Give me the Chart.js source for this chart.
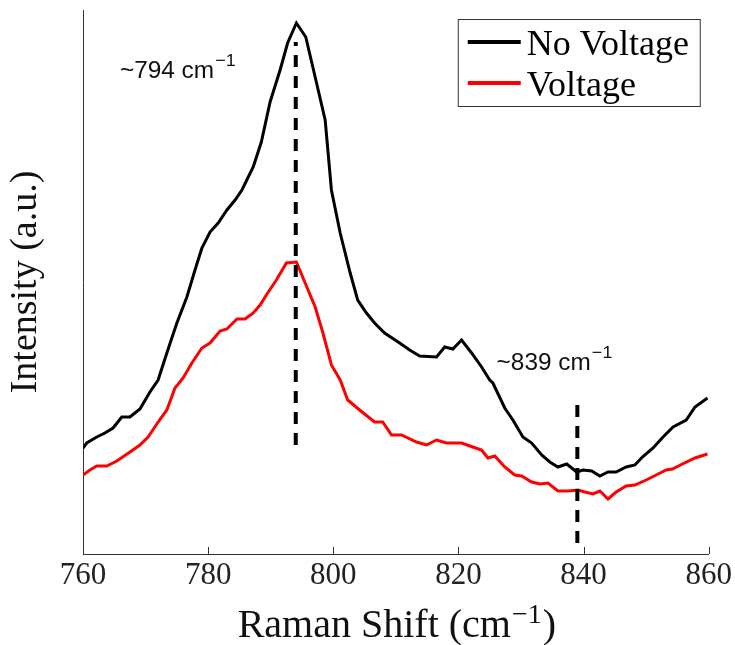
<!DOCTYPE html>
<html>
<head>
<meta charset="utf-8">
<script src="https://cdn.jsdelivr.net/npm/chart.js@4.4.0/dist/chart.umd.min.js"></script>
<style>
  html, body { margin: 0; padding: 0; background: #fff; }
  canvas { display: block; }
</style>
</head>
<body>
<canvas id="ramanChart" width="735" height="645"></canvas>
<script>
// Raman shift (cm^-1) and intensity (a.u.)
const shiftNoV = [760.0, 760.6, 762.2, 763.5, 764.8, 766.2, 767.5, 769.1, 770.7, 772.0,
  773.4, 775.0, 776.6, 777.9, 779.0, 780.3, 781.6, 783.0, 784.3, 785.4, 787.2, 788.5,
  789.9, 791.5, 792.7, 794.1, 795.6, 797.1, 798.7, 799.7, 801.1, 802.7, 803.9, 805.3,
  806.6, 808.2, 810.6, 812.2, 813.8, 816.5, 817.8, 819.1, 820.5, 822.1, 823.7, 825.0,
  825.5, 827.4, 828.7, 830.3, 831.7, 833.3, 834.6, 835.9, 837.3, 838.9, 839.9, 841.3,
  842.6, 843.9, 845.2, 846.8, 848.2, 849.4, 851.1, 852.7, 854.3, 856.4, 857.8, 859.8];
const noVoltage = [106, 111, 117, 121, 126, 137, 137, 145, 162, 174,
  201, 231, 257, 284, 306, 322, 331, 344, 354, 364, 387, 412,
  452, 484, 511, 531, 517, 477, 434, 364, 321, 281, 254, 241,
  231, 221, 211, 204, 198, 197, 207, 205, 214, 201, 187, 174,
  171, 146, 134, 117, 111, 99, 92, 87, 90, 82, 84, 83,
  78, 82, 82, 87, 89, 97, 106, 117, 127, 134, 147, 156];

const shiftV = [760.0, 761.1, 762.2, 763.8, 765.4, 767.5, 769.1, 770.4, 772.0, 773.4,
  774.7, 776.0, 777.4, 779.0, 780.3, 781.9, 783.0, 784.6, 785.9, 787.2, 788.3, 789.3,
  790.9, 792.5, 794.1, 795.5, 797.1, 798.3, 799.7, 801.1, 802.3, 804.2, 806.6, 807.9,
  809.3, 810.9, 813.3, 814.9, 816.5, 818.1, 820.5, 822.3, 823.7, 824.7, 825.8, 827.4,
  829.0, 830.1, 831.7, 833.0, 834.3, 835.9, 837.5, 839.1, 840.2, 841.5, 842.6, 843.9,
  845.2, 846.8, 848.2, 850.0, 851.6, 853.2, 854.2, 855.8, 857.8, 859.8];
const voltage = [79, 84, 88, 88, 93, 102, 109, 117, 132, 144,
  166, 176, 191, 206, 211, 223, 225, 235, 235, 241, 249, 259,
  274, 291, 292, 271, 247, 222, 189, 174, 154, 144, 132, 132,
  119, 119, 112, 109, 114, 111, 111, 107, 104, 96, 98, 87,
  79, 78, 72, 70, 71, 63, 63, 64, 62, 60, 63, 55,
  62, 68, 69, 74, 79, 84, 85, 90, 96, 100];

// dashed peak markers
const peakShift = [794, 839];
const peakTop = [512, 154];
const peakBottom = [109, 11];
const peakText = ['~794 cm', '~839 cm'];
const noteShift = [765.9, 826.1];
const noteLevel = [476, 184];

const xTicks = [760, 780, 800, 820, 840, 860];

const toPoints = (xs, ys) => xs.map((x, i) => ({ x: x, y: ys[i] }));

const peakSets = peakShift.map((p, i) => ({
  data: [{ x: p, y: peakBottom[i] }, { x: p, y: peakTop[i] }],
  borderColor: '#000',
  borderWidth: 4,
  borderDash: [12, 9],
  pointRadius: 0,
  order: 0
}));

const inwardTicks = {
  id: 'inwardTicks',
  afterDraw(chart) {
    const { ctx, scales: { x }, chartArea } = chart;
    ctx.save();
    ctx.strokeStyle = '#333';
    ctx.lineWidth = 1;
    x.ticks.forEach(t => {
      const px = Math.round(x.getPixelForValue(t.value)) + 0.5;
      ctx.beginPath();
      ctx.moveTo(px, chartArea.bottom);
      ctx.lineTo(px, chartArea.bottom - 7);
      ctx.stroke();
    });
    ctx.restore();
  }
};

// x axis title, drawn by hand for the superscript
const shiftTitle = {
  id: 'shiftTitle',
  afterDraw(chart) {
    const { ctx, chartArea } = chart;
    const big = '40px "Liberation Serif"', small = '28px "Liberation Serif"';
    const parts = [['Raman Shift (cm', big, 0], ['\u22121', small, -14], [')', big, 0]];
    ctx.save();
    ctx.fillStyle = '#111';
    ctx.textBaseline = 'alphabetic';
    let total = 0;
    parts.forEach(p => { ctx.font = p[1]; total += ctx.measureText(p[0]).width + (p[2] ? 2 : 0); });
    let cx = (chartArea.left + chartArea.right) / 2 - total / 2 + 1;
    parts.forEach(p => {
      ctx.font = p[1];
      ctx.fillText(p[0], cx + (p[2] ? 1 : 0), 637 + p[2]);
      cx += ctx.measureText(p[0]).width + (p[2] ? 2 : 0);
    });
    ctx.restore();
  }
};

const peakNotes = {
  id: 'peakNotes',
  afterDatasetsDraw(chart) {
    const { ctx, scales: { x, y } } = chart;
    noteShift.forEach((s, i) => {
      ctx.save();
      ctx.translate(x.getPixelForValue(s), y.getPixelForValue(noteLevel[i]));
      ctx.scale(1.06, 1);
      ctx.fillStyle = '#111';
      ctx.textBaseline = 'alphabetic';
      ctx.font = '23px "Liberation Sans"';
      ctx.fillText(peakText[i], 0, 0);
      const w = ctx.measureText(peakText[i]).width;
      ctx.font = '17px "Liberation Sans"';
      ctx.fillText('\u22121', w + 1, -12);
      ctx.restore();
    });
  }
};

const boxLegend = {
  id: 'boxLegend',
  afterDraw(chart) {
    const { ctx, chartArea } = chart;
    const items = chart.data.datasets.filter(d => d.label);
    const left = chartArea.right - 251, top = chartArea.top + 9;
    ctx.save();
    ctx.fillStyle = '#fff';
    ctx.fillRect(left, top, 242, 87);
    ctx.strokeStyle = '#333';
    ctx.lineWidth = 1;
    ctx.strokeRect(left + 0.5, top + 0.5, 242, 87);
    ctx.font = '36px "Liberation Serif"';
    ctx.textBaseline = 'alphabetic';
    items.forEach((d, i) => {
      const y = top + 23 + i * 41;
      ctx.strokeStyle = d.borderColor;
      ctx.lineWidth = 4;
      ctx.beginPath();
      ctx.moveTo(left + 10, y);
      ctx.lineTo(left + 63, y);
      ctx.stroke();
      ctx.fillStyle = '#000';
      ctx.fillText(d.label, left + 69, y + 12.5);
    });
    ctx.restore();
  }
};

const ctx = document.getElementById('ramanChart').getContext('2d');
const ramanChart = new Chart(ctx, {
  type: 'line',
  data: {
    datasets: [
      ...peakSets,
      {
        label: 'No Voltage',
        data: toPoints(shiftNoV, noVoltage),
        borderColor: '#000',
        backgroundColor: '#000',
        borderWidth: 3,
        pointRadius: 0,
        tension: 0,
        order: 1
      },
      {
        label: 'Voltage',
        data: toPoints(shiftV, voltage),
        borderColor: '#ff0000',
        backgroundColor: '#ff0000',
        borderWidth: 3,
        pointRadius: 0,
        tension: 0,
        order: 2
      }
    ]
  },
  options: {
    responsive: false,
    animation: false,
    devicePixelRatio: 1,
    layout: { padding: { left: 0, top: 10, right: 26, bottom: 0 } },
    plugins: {
      legend: { display: false },
      tooltip: { enabled: false }
    },
    scales: {
      x: {
        type: 'linear',
        min: 760,
        max: 860,
        afterFit: scale => { scale.height = 91; },
        afterBuildTicks: scale => { scale.ticks = xTicks.map(v => ({ value: v })); },
        grid: { display: false, drawTicks: false },
        border: { display: true, color: '#333', width: 1 },
        ticks: {
          padding: 3,
          color: '#222',
          font: { family: '"Liberation Serif"', size: 31 }
        },
        title: { display: false }
      },
      y: {
        min: 0,
        max: 544,
        afterFit: scale => { scale.width = 83; },
        grid: { display: false, drawTicks: false },
        border: { display: true, color: '#333', width: 1 },
        ticks: { display: false },
        title: {
          display: true,
          text: 'Intensity (a.u.)',
          color: '#111',
          font: { family: '"Liberation Serif"', size: 38, lineHeight: 1.1 },
          padding: { top: 5, bottom: 0 }
        }
      }
    }
  },
  plugins: [inwardTicks, peakNotes, boxLegend, shiftTitle]
});
</script>
</body>
</html>
